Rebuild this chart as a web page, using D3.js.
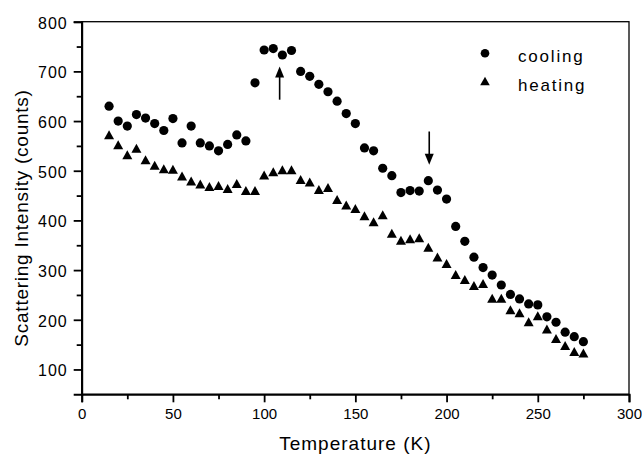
<!DOCTYPE html>
<html><head><meta charset="utf-8">
<script src="https://cdn.jsdelivr.net/npm/d3@7"></script>
<style>body{margin:0;background:#fff}svg{display:block}text{font-family:"Liberation Sans",Arial,sans-serif;fill:#000}</style>
</head><body>
<svg id="c" width="642" height="455"></svg>
<script>
const temps = [15,20,25,30,35,40,45,50,55,60,65,70,75,80,85,90,95,100,105,110,115,120,125,130,135,140,145,150,155,160,165,170,175,180,185,190,195,200,205,210,215,220,225,230,235,240,245,250,255,260,265,270,275];
const cooling = [630,600,590,613,606,595,581,605,556,590,556,550,540,553,572,560,677,743,746,733,742,700,690,674,659,640,615,595,546,540,505,490,456,460,459,480,461,443,388,358,326,305,290,270,251,242,232,230,206,195,175,166,156];
const heating = [572,552,532,545,522,511,504,503,489,479,473,468,470,464,474,460,460,491,498,502,502,482,477,462,466,442,431,424,409,397,411,374,360,363,365,346,326,313,291,281,269,273,243,243,220,214,196,208,181,162,148,136,133];
const xTicks = [0,50,100,150,200,250,300];
const yTicks = [100,200,300,400,500,600,700,800];
const xMinor = [25,75,125,175,225,275];
const yMinor = [150,250,350,450,550,650,750];
const arrows = [{t:108.5, from:643, to:710},{t:190.5, from:579, to:512}];
const seriesNames = ["cooling","heating"];

const svg = d3.select("#c");
const L=81.7, R=629, T=21.7, B=394.3;
const x = d3.scaleLinear().domain([0,300]).range([L,R]);
const y = d3.scaleLinear().domain([50,800]).range([B,T]);

// frame
svg.append("rect").attr("x",L).attr("y",T).attr("width",R-L).attr("height",B-T)
  .attr("fill","none").attr("stroke","#000").attr("stroke-width",1.3);

// x axis
const xa = svg.append("g").attr("transform",`translate(0,${B})`)
  .call(d3.axisBottom(x).tickValues(xTicks).tickSize(8).tickFormat(d3.format("d")));
xa.select(".domain").attr("stroke-width",2);
xa.selectAll(".tick line").attr("stroke-width",1.8);
xa.selectAll(".tick text").attr("font-size",15).attr("y",14).attr("dy","0.71em")
  .attr("font-family","Liberation Sans, Arial, sans-serif");
const xm = svg.append("g").attr("transform",`translate(0,${B})`)
  .call(d3.axisBottom(x).tickValues(xMinor).tickSize(5).tickFormat(""));
xm.select(".domain").remove();
xm.selectAll(".tick line").attr("stroke-width",1.8);

// y axis
const ya = svg.append("g").attr("transform",`translate(${L},0)`)
  .call(d3.axisLeft(y).tickValues(yTicks).tickSize(8).tickFormat(d3.format("d")));
ya.select(".domain").attr("stroke-width",2);
ya.selectAll(".tick line").attr("stroke-width",1.8);
ya.selectAll(".tick text").attr("font-size",16).attr("x",-14).attr("dy","0.4em")
  .style("letter-spacing","1px").attr("font-family","Liberation Sans, Arial, sans-serif");
const ym = svg.append("g").attr("transform",`translate(${L},0)`)
  .call(d3.axisLeft(y).tickValues(yMinor).tickSize(5).tickFormat(""));
ym.select(".domain").remove();
ym.selectAll(".tick line").attr("stroke-width",1.8);

svg.selectAll(".domain").attr("stroke","#000");

// labels
svg.append("text").attr("x",(L+R)/2).attr("y",450).attr("text-anchor","middle")
  .attr("font-size",19).style("letter-spacing","1px").text("Temperature (K)");
svg.append("text").attr("transform","translate(28,218) rotate(-90)").attr("text-anchor","middle")
  .attr("font-size",19).style("letter-spacing","0.75px").text("Scattering Intensity (counts)");

// markers
const tri = "M0,-4.6L-5,4.4L5,4.4Z";
svg.append("g").selectAll("circle").data(temps).join("circle")
  .attr("cx",(d)=>x(d)).attr("cy",(d,i)=>y(cooling[i])).attr("r",4.6).attr("fill","#000");
svg.append("g").selectAll("path").data(temps).join("path")
  .attr("transform",(d,i)=>`translate(${x(d)},${y(heating[i])})`).attr("d",tri).attr("fill","#000");

// arrows
arrows.forEach(a=>{
  const dir = a.to>a.from ? 1 : -1; // up if 1
  const tipY = y(a.to), baseY = y(a.from);
  const headLen = 11;
  svg.append("line").attr("x1",x(a.t)).attr("x2",x(a.t)).attr("y1",baseY).attr("y2",tipY + dir*headLen*0.8)
    .attr("stroke","#000").attr("stroke-width",1.6);
  svg.append("path").attr("transform",`translate(${x(a.t)},${tipY})`)
    .attr("d", dir>0 ? `M0,0L-4.5,${headLen}L4.5,${headLen}Z` : `M0,0L-4.5,${-headLen}L4.5,${-headLen}Z`)
    .attr("fill","#000");
});

// legend
const lg = svg.append("g");
lg.append("circle").attr("cx",485).attr("cy",53.3).attr("r",4.3).attr("fill","#000");
lg.append("path").attr("transform","translate(485,81)").attr("d","M0,-4.3L-4.8,4.2L4.8,4.2Z").attr("fill","#000");
lg.append("text").attr("x",518).attr("y",61.7).attr("font-size",17).style("letter-spacing","1.8px").text(seriesNames[0]);
lg.append("text").attr("x",518).attr("y",90.5).attr("font-size",17).style("letter-spacing","1.8px").text(seriesNames[1]);
</script>
</body></html>
